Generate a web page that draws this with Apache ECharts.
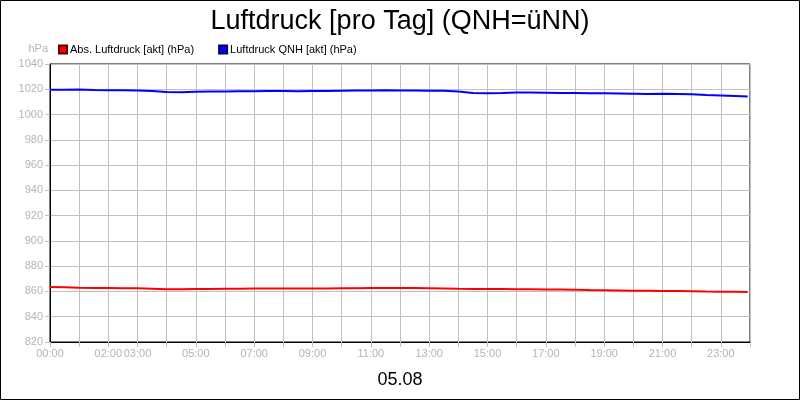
<!DOCTYPE html>
<html>
<head>
<meta charset="utf-8">
<script src="https://cdn.jsdelivr.net/npm/echarts@6/dist/echarts.min.js"></script>
<style>
  html, body { margin: 0; padding: 0; background: #fff; }
  #chart { width: 800px; height: 400px; }
</style>
</head>
<body>
<div id="chart"></div>
<script>
// hours of day, half-hour steps
var arrHours = [0, 0.5, 1, 1.5, 2, 2.5, 3, 3.5, 4, 4.5, 5, 5.5, 6, 6.5, 7, 7.5,
    8, 8.5, 9, 9.5, 10, 10.5, 11, 11.5, 12, 12.5, 13, 13.5, 14, 14.5, 15, 15.5,
    16, 16.5, 17, 17.5, 18, 18.5, 19, 19.5, 20, 20.5, 21, 21.5, 22, 22.5, 23, 23.5, 23.92];

var arrAbs = [863.5, 863.4, 863.0, 862.8, 862.7, 862.6, 862.5, 862.2, 861.8, 861.7,
    861.9, 862.0, 862.1, 862.2, 862.3, 862.3, 862.4, 862.3, 862.3, 862.4,
    862.5, 862.6, 862.7, 862.8, 862.8, 862.7, 862.5, 862.3, 862.1, 862.0,
    862.0, 861.9, 861.8, 861.7, 861.6, 861.5, 861.3, 861.1, 861.0, 860.8,
    860.6, 860.5, 860.4, 860.4, 860.2, 859.9, 859.8, 859.7, 859.6];

var arrQnh = [1019.6, 1019.6, 1019.9, 1019.4, 1019.3, 1019.2, 1019.0, 1018.6, 1017.8, 1017.6,
    1018.0, 1018.2, 1018.3, 1018.4, 1018.4, 1018.6, 1018.7, 1018.5, 1018.6, 1018.6,
    1018.8, 1019.0, 1019.1, 1019.2, 1019.1, 1019.0, 1018.9, 1018.8, 1018.3, 1017.0,
    1016.8, 1017.1, 1017.5, 1017.4, 1017.3, 1017.1, 1017.0, 1016.9, 1016.9, 1016.7,
    1016.5, 1016.3, 1016.4, 1016.2, 1016.0, 1015.4, 1015.0, 1014.6, 1014.2];

// label per hour tick (0..24), empty = no label
var arrXLabels = ['00:00', '', '02:00', '03:00', '', '05:00', '', '07:00', '', '09:00', '',
    '11:00', '', '13:00', '', '15:00', '', '17:00', '', '19:00', '', '21:00', '', '23:00', ''];

var strTitle = 'Luftdruck [pro Tag] (QNH=üNN)';
var strDay = '05.08';
var arrLegend = ['Abs. Luftdruck [akt] (hPa)', 'Luftdruck QNH [akt] (hPa)'];

var _pairs = function (arrX, arrY) {
    var arr = [];
    for (var i = 0; i < arrX.length; i++) {
        arr.push([arrX[i], arrY[i]]);
    }
    return arr;
};

var strFont = 'Liberation Sans, Arial, sans-serif';
var m_oChart = echarts.init(document.getElementById('chart'));

var option = {
    animation: false,
    backgroundColor: '#fff',
    textStyle: { fontFamily: strFont },
    title: [{
        text: strTitle,
        left: 'center',
        top: 3,
        textStyle: { fontSize: 27, fontWeight: 'normal', color: '#000', fontFamily: strFont }
    }, {
        text: strDay,
        left: 'center',
        top: 366,
        textStyle: { fontSize: 18, fontWeight: 'normal', color: '#000', fontFamily: strFont }
    }],
    legend: {
        data: arrLegend,
        left: 53,
        top: 39,
        icon: 'rect',
        itemWidth: 8,
        itemHeight: 8,
        itemGap: 24,
        textStyle: { fontSize: 11, color: '#000', fontFamily: strFont, padding: [0, 0, 0, -2] }
    },
    grid: {
        left: 50,
        right: 50,
        top: 64,
        bottom: 58,
        show: true,
        borderColor: '#000',
        borderWidth: 1
    },
    xAxis: {
        type: 'value',
        min: 0,
        max: 24,
        interval: 1,
        axisLine: { lineStyle: { color: '#000' } },
        axisTick: { show: true, length: 5, lineStyle: { color: '#c0c0c0' } },
        axisLabel: {
            color: '#b4b4b4',
            fontSize: 11,
            margin: 6,
            formatter: function (v) { return arrXLabels[v] || ''; }
        },
        splitLine: { show: true, lineStyle: { color: '#c0c0c0' } }
    },
    yAxis: {
        type: 'value',
        min: 820,
        max: 1040,
        interval: 20,
        name: 'hPa',
        nameLocation: 'end',
        nameGap: 10,
        nameTextStyle: { color: '#b4b4b4', fontSize: 11, align: 'right', padding: [0, 2, 0, 0] },
        axisLine: { show: true, lineStyle: { color: '#000' } },
        axisTick: { show: true, length: 5, lineStyle: { color: '#c0c0c0' } },
        axisLabel: {
            color: '#b4b4b4',
            fontSize: 11,
            margin: 7,
            formatter: function (v) { return String(v); }
        },
        splitLine: { show: true, lineStyle: { color: '#c0c0c0' } }
    },
    series: [{
        name: arrLegend[0],
        type: 'line',
        data: _pairs(arrHours, arrAbs),
        showSymbol: false,
        itemStyle: { color: '#ff0000', borderColor: '#600000', borderWidth: 1 },
        lineStyle: { color: '#ff0000', width: 2 }
    }, {
        name: arrLegend[1],
        type: 'line',
        data: _pairs(arrHours, arrQnh),
        showSymbol: false,
        itemStyle: { color: '#0000ff', borderColor: '#000060', borderWidth: 1 },
        lineStyle: { color: '#0000ff', width: 2 }
    }],
    graphic: [{
        type: 'rect',
        shape: { x: 0.5, y: 0.5, width: 799, height: 399 },
        style: { fill: null, stroke: '#000', lineWidth: 1 }
    }]
};

m_oChart.setOption(option);
</script>
</body>
</html>
